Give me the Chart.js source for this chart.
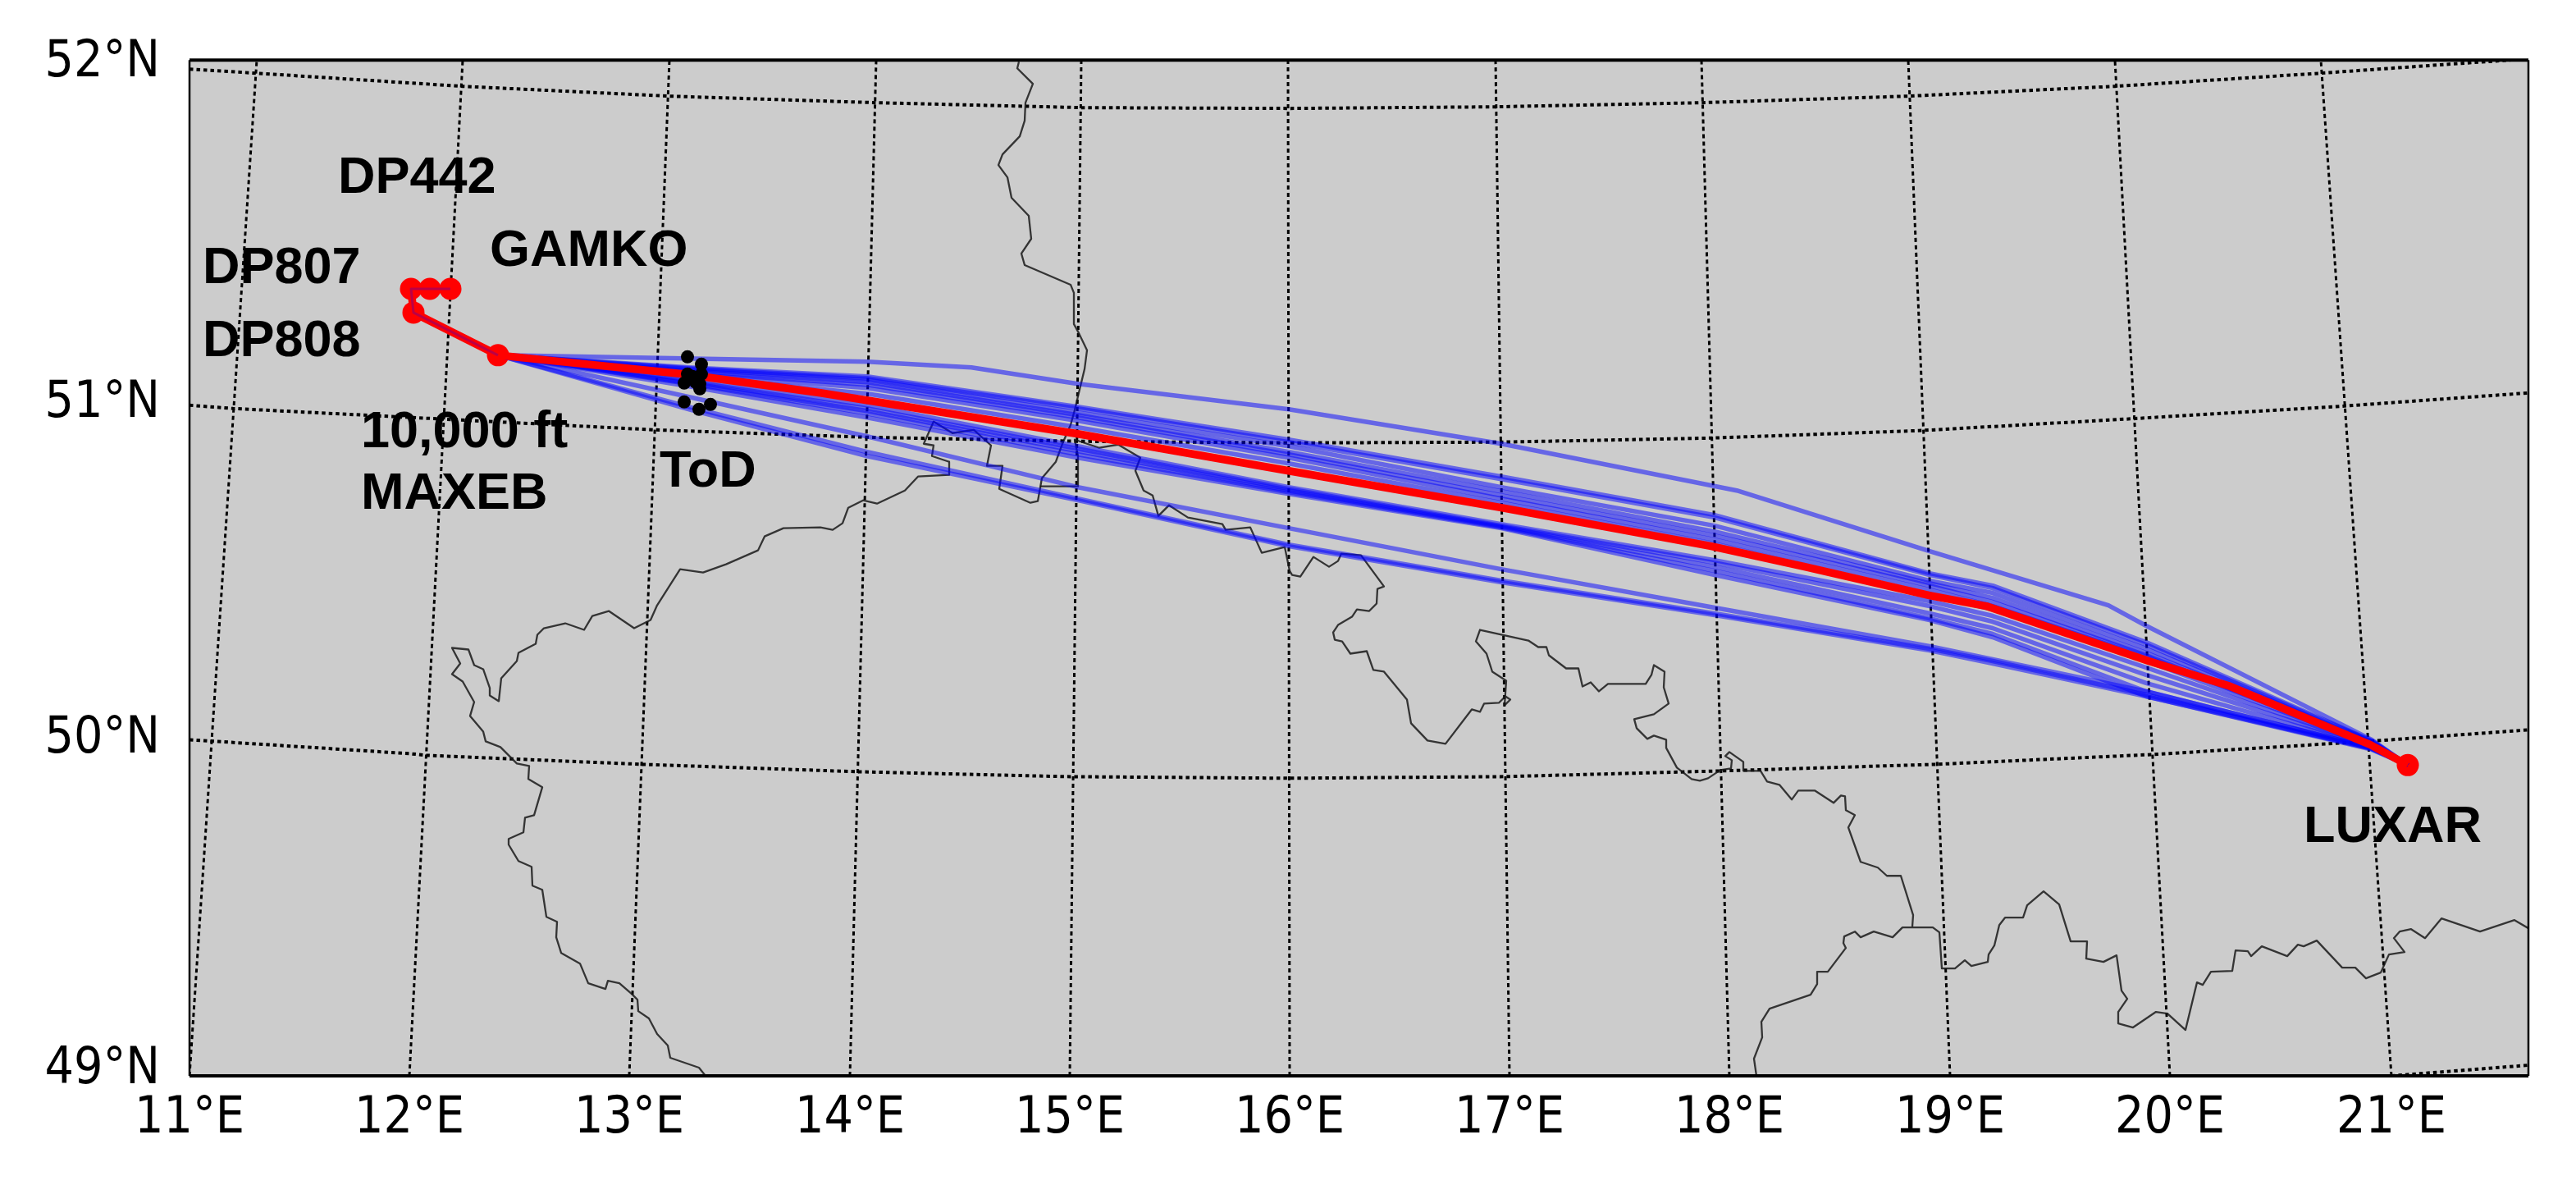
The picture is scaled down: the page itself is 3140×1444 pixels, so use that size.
<!DOCTYPE html>
<html>
<head>
<meta charset="utf-8">
<title>Arrival routes to LUXAR</title>
<script src="https://cdn.jsdelivr.net/npm/chart.js@4"></script>
<style>
  html, body { margin: 0; padding: 0; background: #fff; }
  canvas { display: block; }
</style>
</head>
<body>
<canvas id="map" width="3140" height="1444"></canvas>
<script>
// Everything is in map units (projected easting / northing), origin at the
// lower left corner of the map frame. Graticule is not straight in these units.
const mapWidth = 2851;
const mapHeight = 1239;

const lonTicks = [0, 268, 536, 805, 1073, 1341, 1609, 1877, 2146, 2414, 2684];
const lonLabels = ['11°E', '12°E', '13°E', '14°E', '15°E', '16°E', '17°E', '18°E', '19°E', '20°E', '21°E'];
const latTicks = [7, 411, 820, 1235];
const latLabels = ['49°N', '50°N', '51°N', '52°N'];

// meridians, bottom and top of the frame
const meridianBottom = [0, 268, 536, 805, 1073, 1341, 1609, 1877, 2146, 2414, 2684];
const meridianTop = [82, 333, 585, 837, 1087, 1339, 1592, 1843, 2095, 2347, 2598];

const parallel52E = [0, 81, 333, 585, 837, 1087, 1341, 1592, 1843, 2095, 2347, 2598, 2769, 2829];
const parallel52N = [1228, 1223, 1207, 1195, 1187, 1181, 1180, 1182, 1187, 1195, 1207, 1223, 1235, 1239];
const parallel51E = [0, 53, 311, 566, 824, 1083, 1341, 1599, 1855, 2108, 2359, 2612, 2851];
const parallel51N = [818, 814, 801, 788, 779, 774, 772, 773, 778, 787, 801, 816, 833];
const parallel50E = [0, 269, 288, 551, 814, 1069, 1341, 1603, 1868, 2129, 2393, 2656, 2851];
const parallel50N = [410, 393, 391, 380, 371, 365, 363, 365, 372, 380, 392, 408, 422];
const parallel49E = [2684, 2851];
const parallel49N = [0, 13];

// country borders
const borderWest = [[1011,1237],[1009,1229],[1028,1210],[1019,1187],[1018,1165],[1012,1146],[991,1124],[986,1111],[997,1096],[1002,1071],
  [1023,1049],[1026,1021],[1014,1003],[1018,989],[1074,965],[1078,955],[1078,917],[1084,906],[1094,885],[1091,862],[1084,833],[1079,812],
  [1074,794],[1064,771],[1056,749],[1039,729],[1034,701],[1025,699],[987,716],[991,744],[972,744],[977,769],[956,788],[930,784],[907,798],
  [895,771],[907,769],[905,756],[926,749],[926,733],[888,731],[872,714],[838,698],[821,702],[803,693],[796,674],[784,666],[769,669],
  [724,668],[701,658],[693,641],[654,624],[626,614],[598,618],[570,574],[562,556],[542,546],[511,567],[501,564],[491,561],[481,544],
  [458,552],[432,546],[424,538],[422,527],[401,516],[399,506],[380,485],[377,457],[366,464],[366,473],[358,496],[347,501],[340,520],
  [320,522],[330,503],[320,490],[333,481],[347,456],[342,439],[358,420],[361,408],[379,401],[399,381],[414,378],[413,362],[430,352],
  [420,318],[409,315],[407,297],[389,289],[389,282],[401,262],[417,255],[418,232],[430,227],[435,194],[448,188],[447,169],[453,150],
  [476,137],[486,113],[507,106],[510,116],[524,113],[539,100],[546,93],[547,79],[560,70],[570,51],[583,37],[586,22],[621,10],[629,0]];

const borderMiddle = [[1037,719],[1083,719],[1083,756],[1079,776],[1109,766],[1132,770],[1159,754],[1153,738],[1163,714],[1174,708],
  [1181,683],[1194,696],[1217,681],[1259,673],[1263,666],[1293,669],[1307,638],[1335,645],[1341,616],[1344,611],[1354,609],[1370,633],
  [1389,621],[1400,628],[1404,637],[1428,635],[1456,597],[1448,594],[1447,576],[1438,567],[1423,569],[1417,560],[1400,550],[1394,541],
  [1396,532],[1405,530],[1415,515],[1435,518],[1443,495],[1456,493],[1484,459],[1489,430],[1509,409],[1531,405],[1563,447],[1573,444],
  [1578,454],[1596,455],[1604,463],[1610,459],[1603,452],[1605,482],[1588,493],[1581,515],[1568,530],[1573,544],[1632,531],[1644,523],
  [1654,523],[1657,513],[1678,497],[1693,497],[1698,475],[1708,480],[1718,469],[1729,478],[1775,478],[1782,489],[1785,501],[1798,493],
  [1797,474],[1803,454],[1785,441],[1761,435],[1764,424],[1777,411],[1785,415],[1800,410],[1800,400],[1813,376],[1831,362],[1841,360],
  [1851,363],[1866,373],[1879,375],[1880,385],[1872,390],[1877,395],[1894,383],[1894,372],[1915,372],[1923,359],[1938,355],[1953,337],
  [1961,348],[1981,348],[2004,333],[2013,342],[2018,341],[2019,324],[2030,318],[2022,303],[2037,261],[2058,254],[2069,244],[2086,244],
  [2101,196],[2100,182]];

const borderEast = [[1910,0],[1907,21],[1917,47],[1916,66],[1926,82],[1976,99],[1984,112],[1984,127],[1997,127],[2019,156],[2016,162],
  [2017,170],[2030,176],[2037,169],[2053,176],[2076,169],[2088,181],[2125,181],[2133,175],[2136,131],[2152,131],[2164,141],[2172,134],
  [2192,139],[2193,148],[2200,159],[2206,184],[2213,193],[2235,193],[2240,208],[2260,225],[2279,209],[2293,164],[2313,164],[2312,143],
  [2333,139],[2349,147],[2355,104],[2362,94],[2351,78],[2351,64],[2369,59],[2397,78],[2411,76],[2433,56],[2447,114],[2454,111],[2464,127],
  [2490,128],[2494,153],[2509,152],[2513,146],[2526,158],[2557,146],[2570,160],[2577,158],[2593,165],[2624,132],[2640,132],[2653,119],
  [2671,126],[2681,148],[2700,151],[2687,168],[2694,176],[2708,179],[2725,168],[2745,192],[2792,176],[2834,190],[2851,180]];

// flown descents, MAXEB to LUXAR
const routeE = [376, 609, 826, 1083, 1340, 1599, 1859, 2121, 2198, 2385, 2660, 2704];
const route02 = [879, 864, 853, 816, 776, 731, 684, 613, 598, 529, 409, 379];
const route03 = [879, 863, 851, 814, 773, 728, 681, 611, 595, 526, 408, 379];
const route04 = [879, 862, 849, 809, 768, 718, 671, 604, 589, 521, 407, 379];
const route05 = [879, 860, 846, 806, 761, 713, 664, 601, 583, 516, 406, 379];
const route06 = [879, 858, 843, 803, 758, 708, 659, 598, 578, 513, 405, 379];
const route07 = [879, 856, 839, 799, 754, 704, 654, 593, 573, 511, 405, 379];
const route08 = [879, 853, 832, 791, 747, 699, 649, 587, 569, 506, 404, 379];
const route09 = [879, 849, 818, 768, 718, 673, 629, 579, 561, 498, 403, 379];
const route10 = [879, 847, 814, 765, 716, 671, 626, 573, 554, 489, 402, 379];
const route11 = [879, 845, 811, 762, 714, 670, 621, 564, 546, 479, 401, 379];
const route12 = [879, 844, 808, 758, 712, 669, 616, 558, 539, 469, 400, 379];
const route13 = [879, 841, 803, 754, 710, 668, 611, 556, 535, 463, 399, 379];
const route14 = [879, 828, 780, 718, 668, 618, 571, 524, 508, 469, 400, 379];
const route15 = [879, 816, 761, 704, 648, 604, 564, 521, 506, 465, 399, 379];
const route16 = [879, 813, 756, 702, 646, 602, 562, 519, 503, 463, 398, 379];
// the northernmost one has its own turn points
const route01E = [376, 826, 953, 1083, 1340, 1599, 1886, 2121, 2339, 2385, 2660, 2704];
const route01N = [879, 871, 864, 844, 813, 771, 714, 640, 574, 549, 410, 379];

// reference trajectory, holding pattern then direct
const refE = [318, 270, 273, 376, 602, 769, 1083, 1340, 1599, 1855, 1969, 2121, 2190, 2388, 2485, 2658, 2704];
const refN = [960, 960, 931, 879, 856, 833, 783, 738, 693, 646, 621, 586, 573, 506, 476, 404, 379];

const waypointE = [270, 293, 318, 273, 376, 2704];
const waypointN = [960, 960, 960, 931, 879, 379];

const todE = [607, 624, 607, 624, 622, 603, 622, 603, 621, 635, 613, 617];
const todN = [877, 868, 856, 856, 844, 845, 838, 822, 813, 819, 853, 846];

const labelText = ['DP442', 'GAMKO', 'DP807', 'DP808', '10,000 ft', 'MAXEB', 'ToD', 'LUXAR'];
const labelE = [181, 366, 16, 16, 209, 209, 573, 2577];
const labelN = [1077, 988, 967, 878, 767, 692, 719, 285];

function zip(xs, ys) {
    return xs.map((x, i) => ({ x: x, y: ys[i] }));
}
function pairs(list) {
    return list.map(p => ({ x: p[0], y: p[1] }));
}
function lineSet(data, color, width, dash) {
    return {
        type: 'scatter',
        data: data,
        showLine: true,
        tension: 0,
        pointRadius: 0,
        borderColor: color,
        borderWidth: width,
        borderDash: dash || [],
        borderJoinStyle: 'round',
        borderCapStyle: 'butt'
    };
}
function pointSet(data, color, radius) {
    return {
        type: 'scatter',
        data: data,
        showLine: false,
        pointRadius: radius,
        pointBackgroundColor: color,
        pointBorderWidth: 0
    };
}

// listed bottom layer first, reversed below since Chart.js paints index 0 last
let layers = [];

meridianBottom.forEach((x, i) => {
    layers.push(lineSet(zip([x, meridianTop[i]], [0, mapHeight]), '#000', 3, [5, 4]));
});
[[parallel52E, parallel52N], [parallel51E, parallel51N], [parallel50E, parallel50N], [parallel49E, parallel49N]].forEach(p => {
    layers.push(lineSet(zip(p[0], p[1]), '#000', 4, [4.5, 4]));
});

[borderWest, borderMiddle, borderEast].forEach(b => {
    layers.push(lineSet(pairs(b), 'rgba(25,25,25,0.85)', 2.3));
});

layers.push(pointSet(zip(waypointE, waypointN), '#ff0000', 13.5));

const blue = 'rgba(0,0,255,0.5)';
layers.push(lineSet(zip(route01E, route01N), blue, 5.5));
[route02, route03, route04, route05, route06, route07, route08, route09, route10, route11, route12, route13, route14, route15, route16].forEach(r => {
    layers.push(lineSet(zip(routeE, r), blue, 5.5));
});

layers.push(lineSet(zip(refE, refN), '#ff0000', 9.5));
// blue tracks of the hold show through on top of the red
layers.push(lineSet(zip(refE.slice(0, 4), refN.slice(0, 4)), 'rgba(60,0,200,0.35)', 3));
layers.push(pointSet(zip(todE, todN), '#000', 8));

layers.reverse();

// frame, land fill and the waypoint names
const mapDecor = {
    id: 'mapDecor',
    beforeDatasetsDraw(chart) {
        const a = chart.chartArea;
        const ctx = chart.ctx;
        ctx.save();
        ctx.fillStyle = '#cccccc';
        ctx.fillRect(a.left, a.top, a.width, a.height);
        ctx.restore();
    },
    afterDatasetsDraw(chart) {
        const a = chart.chartArea;
        const ctx = chart.ctx;
        const sx = chart.scales.x;
        const sy = chart.scales.y;
        ctx.save();
        ctx.strokeStyle = '#000';
        ctx.lineWidth = 4;
        ctx.beginPath();
        ctx.moveTo(a.left, a.top);
        ctx.lineTo(a.right, a.top);
        ctx.moveTo(a.left, a.bottom);
        ctx.lineTo(a.right, a.bottom);
        ctx.stroke();
        ctx.lineWidth = 2.5;
        ctx.beginPath();
        ctx.moveTo(a.left, a.top);
        ctx.lineTo(a.left, a.bottom);
        ctx.moveTo(a.right, a.top);
        ctx.lineTo(a.right, a.bottom);
        ctx.stroke();
        ctx.fillStyle = '#000';
        ctx.font = 'bold 63px "Liberation Sans"';
        ctx.textAlign = 'left';
        ctx.textBaseline = 'alphabetic';
        labelText.forEach((t, i) => {
            ctx.fillText(t, sx.getPixelForValue(labelE[i]), sy.getPixelForValue(labelN[i]));
        });
        ctx.restore();
    }
};

const tickFont = { family: '"DejaVu Sans Condensed", "DejaVu Sans"', size: 62 };

new Chart(document.getElementById('map'), {
    data: { datasets: layers },
    plugins: [mapDecor],
    options: {
        responsive: false,
        animation: false,
        devicePixelRatio: 1,
        layout: { padding: { top: 72, right: 58, left: 0, bottom: 0 } },
        plugins: {
            legend: { display: false },
            title: { display: false },
            tooltip: { enabled: false }
        },
        scales: {
            x: {
                type: 'linear',
                min: 0,
                max: mapWidth,
                grid: { display: false, drawTicks: false },
                border: { display: false },
                afterBuildTicks: s => { s.ticks = lonTicks.map(v => ({ value: v })); },
                afterFit: s => { s.height = 133; },
                ticks: {
                    color: '#000',
                    font: tickFont,
                    padding: 16,
                    maxRotation: 0,
                    autoSkip: false,
                    callback: (v, i) => lonLabels[i]
                }
            },
            y: {
                type: 'linear',
                min: 0,
                max: mapHeight,
                grid: { display: false, drawTicks: false },
                border: { display: false },
                afterBuildTicks: s => { s.ticks = latTicks.map(v => ({ value: v })); },
                afterFit: s => { s.width = 231; },
                ticks: {
                    color: '#000',
                    font: tickFont,
                    padding: 36,
                    autoSkip: false,
                    callback: (v, i) => latLabels[i]
                }
            }
        }
    }
});
</script>
</body>
</html>
